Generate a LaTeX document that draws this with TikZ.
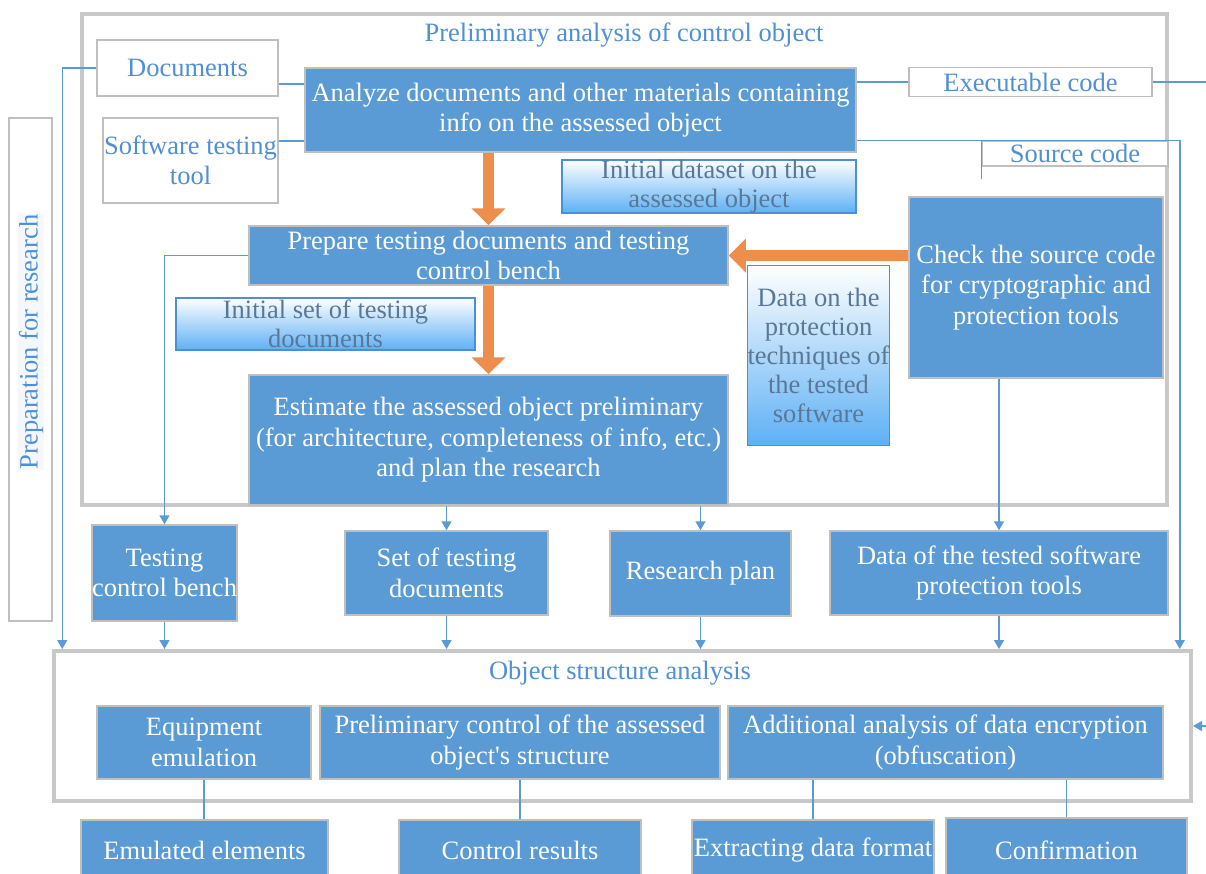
\documentclass[tikz,border=0pt]{standalone}
\usepackage{fontspec}
\setmainfont{Liberation Serif}
\usetikzlibrary{arrows.meta, positioning, calc}
\definecolor{Frame}{HTML}{C8C8C8}
\definecolor{Edge}{HTML}{BFBFBF}
\definecolor{Steel}{HTML}{5B9BD5}
\definecolor{Ink}{HTML}{4F8FD6}
\definecolor{Sky}{HTML}{5DB0F5}
\definecolor{SkyLine}{HTML}{4A8FD8}
\definecolor{Slate}{HTML}{5A7896}
\definecolor{Amber}{HTML}{EE8E4C}

\begin{document}
\begin{tikzpicture}[x=1pt,y=-1pt,font=\fontsize{26.5}{30.5}\selectfont,frame/.style={draw=Frame,line width=4pt},stepbox/.style={draw=Edge,fill=Steel,text=white,line width=1.5pt,align=center,inner sep=0pt},tagbox/.style={draw=Edge,fill=white,text=Ink,line width=1.5pt,align=center,inner sep=0pt},databox/.style={draw=SkyLine,top color=white,middle color=Sky!45,bottom color=Sky,text=Slate,line width=1.5pt,align=center,inner sep=0pt,font=\fontsize{26.5}{29}\selectfont},link/.style={draw=Steel,line width=1.5pt},arrow/.style={link,-{Triangle[length=9pt,width=10pt]}},bigarrow/.style={draw=Amber,line width=11pt,-{Triangle[length=17pt,width=33pt]}}]
\useasboundingbox (0,0) rectangle (1206,873);
\clip (0,0) rectangle (1206,873);
\fill[white] (0,0) rectangle (1206,873);
% preliminary analysis
\node[frame,minimum width=1085pt,minimum height=491pt] (pre) at (624.5,259.5){};
\node[text=Ink] (pretitle) at (624,35){Preliminary analysis of control object};
\node[tagbox,minimum width=43pt,minimum height=503pt] (prep) at (30.5,369.5){};
\node[text=Ink,rotate=90,fill=Ink!6,inner sep=1pt] (preptext) at (31,342){Preparation for research};
\node[tagbox,minimum width=181pt,minimum height=56pt] (docs) at (187.5,68){Documents};
\node[tagbox,minimum width=175pt,minimum height=85pt] (tool) at (190.5,160.5){Software testing\\tool};
\node[stepbox,minimum width=551pt,minimum height=84pt] (ana) at (580.5,110){Analyze documents and other materials containing\\info on the assessed object};
\node[tagbox,minimum width=243pt,minimum height=29pt] (exe) at (1030.5,82){Executable code};
\node[tagbox,minimum width=186pt,minimum height=25pt] (src) at (1075,153.5){Source code};
\node[databox,minimum width=294pt,minimum height=51pt] (ids) at (709,186.5){Initial dataset on the\\assessed object};
\node[stepbox,minimum width=479pt,minimum height=59pt] (prepare) at (488.5,255.5){Prepare testing documents and testing\\control bench};
\node[databox,minimum width=299pt,minimum height=52pt] (its) at (325.5,324){Initial set of testing\\documents};
\node[stepbox,minimum width=479pt,minimum height=130pt] (est) at (488.5,440){Estimate the assessed object preliminary\\(for architecture, completeness of info, etc.)\\and plan the research};
\node[databox,minimum width=141pt,minimum height=180pt] (dpt) at (818.5,355.5){Data on the\\protection\\techniques of\\the tested\\software};
\node[stepbox,minimum width=254pt,minimum height=181pt] (chk) at (1036,287.5){Check the source code\\for cryptographic and\\protection tools};
% results of preparation
\node[stepbox,minimum width=141pt,minimum height=96pt] (tcb) at (164.5,573){Testing\\control bench};
\node[stepbox,minimum width=203pt,minimum height=84pt] (std) at (446.5,573){Set of testing\\documents};
\node[stepbox,minimum width=181pt,minimum height=85pt] (rp) at (700.5,573.5){Research plan};
\node[stepbox,minimum width=338pt,minimum height=84pt] (dtp) at (999,573){Data of the tested software\\protection tools};
% object structure analysis
\node[frame,minimum width=1137pt,minimum height=150pt] (osa) at (622.5,726){};
\node[text=Ink] (osatitle) at (620,673){Object structure analysis};
\node[stepbox,minimum width=214pt,minimum height=73pt] (emu) at (204,742.5){Equipment\\emulation};
\node[stepbox,minimum width=400pt,minimum height=73pt] (pcs) at (520,742.5){Preliminary control of the assessed\\object\textquotesingle s structure};
\node[stepbox,minimum width=435pt,minimum height=73pt] (aae) at (945.5,742.5){Additional analysis of data encryption\\(obfuscation)};
\node[stepbox,minimum width=247pt,minimum height=60pt] (emel) at (204.5,850){Emulated elements};
\node[stepbox,minimum width=242pt,minimum height=60pt] (cres) at (520,850){Control results};
\node[stepbox,minimum width=242pt,minimum height=60pt] (edf) at (813,850){Extracting data format};
\node[stepbox,minimum width=241pt,minimum height=64pt] (conf) at (1066.5,850){Confirmation};
% inputs
\coordinate (d1) at ([yshift=-16pt]docs.east);
\coordinate (t1) at ([yshift=19.5pt]tool.east);
\coordinate (dl) at ([xshift=-34pt]docs.west);
\draw[link] (d1) -- (d1 -| ana.west);
\draw[link] (t1) -- (t1 -| ana.west);
\draw[arrow] (docs.west) -- (dl) -- (dl |- osa.north);
\draw[link] (exe.west) -- (exe.west -| ana.east);
\coordinate (eo) at ([xshift=54pt]exe.east);
\coordinate (ei) at ([xshift=13pt]osa.east);
\draw[link] (exe.east) -- (eo);
\draw[arrow] (ei) -- (osa.east);
\coordinate (sr) at ([xshift=11pt]src.north east);
\coordinate (stub) at ([yshift=-39pt]src.north west);
\draw[arrow] (ana.east |- src.north) -- (sr) -- (sr |- osa.north);
\draw[link] (src.north west) -- (stub);
% main flow
\draw[bigarrow] (ana.south -| prepare.north) -- (prepare.north);
\draw[bigarrow] (prepare.south) -- (est.north);
\draw[bigarrow] (chk.west |- prepare.east) -- (prepare.east);
\draw[arrow] (prepare.west) -| (tcb.north);
\draw[arrow] (est.south -| std.north) -- (std.north);
\draw[arrow] (est.south -| rp.north) -- (rp.north);
\draw[arrow] (chk.south -| dtp.north) -- (dtp.north);
\draw[arrow] (tcb.south) -- (tcb.south |- osa.north);
\draw[arrow] (std.south) -- (std.south |- osa.north);
\draw[arrow] (rp.south) -- (rp.south |- osa.north);
\draw[arrow] (dtp.south) -- (dtp.south |- osa.north);
% outputs
\draw[link] (emu.south) -- (emu.south |- emel.north);
\draw[link] (pcs.south) -- (pcs.south |- cres.north);
\draw[link] (aae.south -| edf.north) -- (edf.north);
\draw[link] (aae.south -| conf.north) -- (conf.north);
\end{tikzpicture}
\end{document}
